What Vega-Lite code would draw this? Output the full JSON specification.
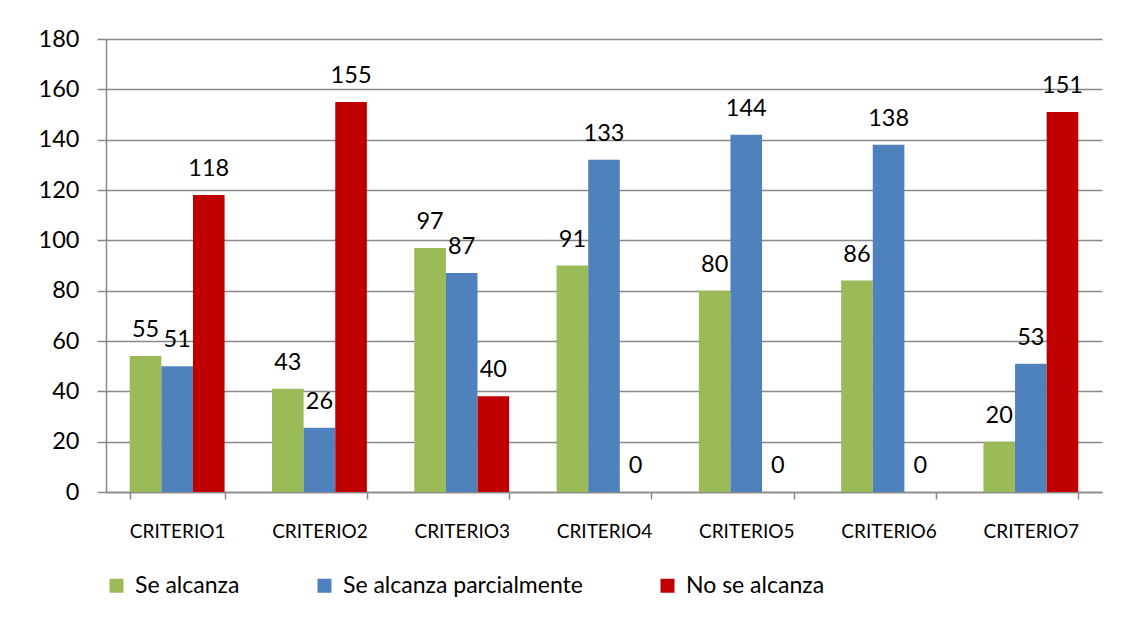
{
  "$schema": "https://vega.github.io/schema/vega-lite/v6.json",
  "width": 996,
  "height": 453,
  "autosize": {"type": "none"},
  "padding": {"left": 106, "top": 39, "right": 38, "bottom": 140},
  "background": "white",
  "config": {
    "font": "Lato",
    "view": {"stroke": null}
  },
  "data": {
    "values": [
      {"criterio": "CRITERIO1", "serie": "Se alcanza", "valor": 54, "etiqueta": 55},
      {"criterio": "CRITERIO1", "serie": "Se alcanza parcialmente", "valor": 50, "etiqueta": 51},
      {"criterio": "CRITERIO1", "serie": "No se alcanza", "valor": 118, "etiqueta": 118},
      {"criterio": "CRITERIO2", "serie": "Se alcanza", "valor": 41, "etiqueta": 43},
      {"criterio": "CRITERIO2", "serie": "Se alcanza parcialmente", "valor": 25.5, "etiqueta": 26},
      {"criterio": "CRITERIO2", "serie": "No se alcanza", "valor": 155, "etiqueta": 155},
      {"criterio": "CRITERIO3", "serie": "Se alcanza", "valor": 97, "etiqueta": 97},
      {"criterio": "CRITERIO3", "serie": "Se alcanza parcialmente", "valor": 87, "etiqueta": 87},
      {"criterio": "CRITERIO3", "serie": "No se alcanza", "valor": 38, "etiqueta": 40},
      {"criterio": "CRITERIO4", "serie": "Se alcanza", "valor": 90, "etiqueta": 91},
      {"criterio": "CRITERIO4", "serie": "Se alcanza parcialmente", "valor": 132, "etiqueta": 133},
      {"criterio": "CRITERIO4", "serie": "No se alcanza", "valor": 0, "etiqueta": 0},
      {"criterio": "CRITERIO5", "serie": "Se alcanza", "valor": 80, "etiqueta": 80},
      {"criterio": "CRITERIO5", "serie": "Se alcanza parcialmente", "valor": 142, "etiqueta": 144},
      {"criterio": "CRITERIO5", "serie": "No se alcanza", "valor": 0, "etiqueta": 0},
      {"criterio": "CRITERIO6", "serie": "Se alcanza", "valor": 84, "etiqueta": 86},
      {"criterio": "CRITERIO6", "serie": "Se alcanza parcialmente", "valor": 138, "etiqueta": 138},
      {"criterio": "CRITERIO6", "serie": "No se alcanza", "valor": 0, "etiqueta": 0},
      {"criterio": "CRITERIO7", "serie": "Se alcanza", "valor": 20, "etiqueta": 20},
      {"criterio": "CRITERIO7", "serie": "Se alcanza parcialmente", "valor": 51, "etiqueta": 53},
      {"criterio": "CRITERIO7", "serie": "No se alcanza", "valor": 151, "etiqueta": 151}
    ]
  },
  "encoding": {
    "x": {
      "field": "criterio",
      "type": "nominal",
      "sort": null,
      "scale": {"paddingInner": 0.3333, "paddingOuter": 0.1667},
      "axis": {
        "title": null,
        "labelAngle": 0,
        "labelFont": "Lato",
        "labelFontSize": 19,
        "labelColor": "#000000",
        "labelPadding": 23,
        "domainColor": "#898989",
        "domainWidth": 1.5,
        "tickColor": "#898989",
        "tickWidth": 1.5,
        "tickSize": 7,
        "tickBand": "extent",
        "grid": false
      }
    },
    "xOffset": {
      "field": "serie",
      "type": "nominal",
      "sort": ["Se alcanza", "Se alcanza parcialmente", "No se alcanza"],
      "scale": {"paddingInner": 0, "paddingOuter": 0}
    },
    "y": {
      "field": "valor",
      "type": "quantitative",
      "scale": {"domain": [0, 180], "nice": false},
      "axis": {
        "title": null,
        "values": [0, 20, 40, 60, 80, 100, 120, 140, 160, 180],
        "labelFont": "Lato",
        "labelFontSize": 23.5,
        "labelColor": "#000000",
        "labelPadding": 18,
        "domainColor": "#898989",
        "domainWidth": 1.5,
        "tickColor": "#898989",
        "tickWidth": 1.5,
        "tickSize": 9,
        "grid": true,
        "gridColor": "#898989",
        "gridWidth": 1.5
      }
    }
  },
  "layer": [
    {
      "mark": {"type": "bar"},
      "encoding": {
        "color": {
          "field": "serie",
          "type": "nominal",
          "scale": {
            "domain": ["Se alcanza", "Se alcanza parcialmente", "No se alcanza"],
            "range": ["#9BBB59", "#4F81BD", "#C00000"]
          },
          "legend": {
            "title": null,
            "orient": "none",
            "direction": "horizontal",
            "legendX": -1,
            "legendY": 535,
            "padding": 0,
            "symbolType": "square",
            "symbolSize": 196,
            "symbolStrokeWidth": 0,
            "symbolOpacity": 1,
            "labelFont": "Lato",
            "labelFontSize": 23,
            "labelColor": "#000000",
            "labelOffset": 7,
            "labelLimit": 400,
            "columnPadding": 73
          }
        }
      }
    },
    {
      "mark": {"type": "text", "baseline": "middle", "align": "center", "dy": -26, "fontSize": 23.5, "font": "Lato", "color": "#000000"},
      "encoding": {
        "text": {"field": "etiqueta", "type": "quantitative"}
      }
    }
  ]
}
